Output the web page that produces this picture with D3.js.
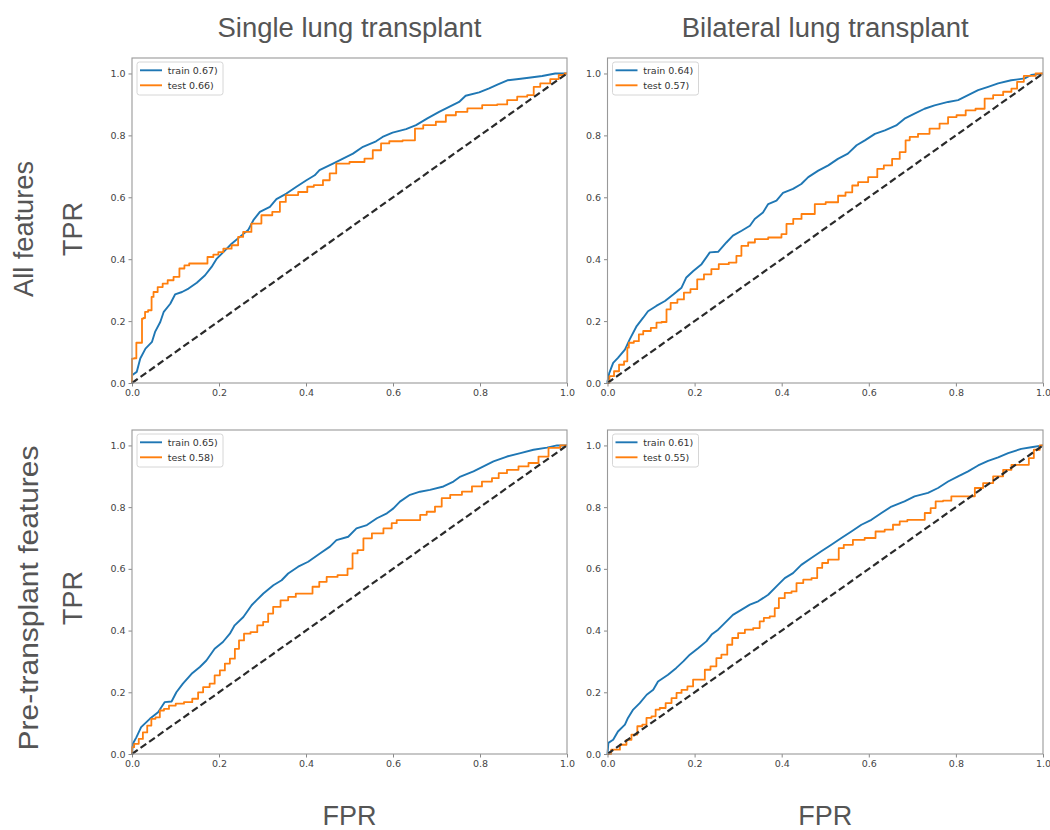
<!DOCTYPE html>
<html>
<head>
<meta charset="utf-8">
<script src="https://cdn.jsdelivr.net/npm/d3@7"></script>
<style>
  html, body { margin: 0; padding: 0; background: #fff; }
  svg { display: block; }
</style>
</head>
<body>
<svg id="chart" width="1050" height="830"></svg>
<script>
// ---------------- DATA ----------------
const columnTitles = ["Single lung transplant", "Bilateral lung transplant"];
const rowTitles = ["All features", "Pre-transplant features"];
const axisTicks = [0, 0.2, 0.4, 0.6, 0.8, 1.0];
const seriesNames = ["train", "test"];

// AUC labels per panel [train, test] (as printed in the legends)
const aucSingleAll = ["0.67)", "0.66)"];
const aucBilateralAll = ["0.64)", "0.57)"];
const aucSinglePre = ["0.65)", "0.58)"];
const aucBilateralPre = ["0.61)", "0.55)"];

// ROC curves: [FPR, TPR] pairs
const trainSingleAll = [[0,0],[0,0.025],[0.011,0.036],[0.019,0.079],[0.031,0.111],[0.046,0.133],[0.053,0.165],[0.065,0.197],[0.073,0.23],[0.088,0.256],[0.099,0.286],[0.115,0.294],[0.13,0.305],[0.149,0.324],[0.168,0.348],[0.183,0.375],[0.195,0.402],[0.21,0.423],[0.229,0.45],[0.252,0.477],[0.267,0.494],[0.279,0.526],[0.294,0.553],[0.317,0.569],[0.332,0.594],[0.355,0.612],[0.378,0.634],[0.401,0.655],[0.42,0.671],[0.431,0.688],[0.462,0.709],[0.485,0.725],[0.508,0.741],[0.531,0.763],[0.561,0.781],[0.576,0.795],[0.599,0.809],[0.63,0.82],[0.653,0.833],[0.679,0.855],[0.706,0.876],[0.729,0.892],[0.752,0.908],[0.767,0.928],[0.798,0.939],[0.821,0.952],[0.84,0.964],[0.863,0.978],[0.889,0.982],[0.912,0.986],[0.943,0.992],[0.973,1.0],[1,1]];
const testSingleAll = [[0,0],[0,0.079],[0.01,0.08],[0.01,0.13],[0.023,0.13],[0.023,0.208],[0.03,0.21],[0.03,0.23],[0.044,0.235],[0.046,0.278],[0.053,0.294],[0.065,0.31],[0.076,0.321],[0.088,0.332],[0.103,0.343],[0.115,0.37],[0.126,0.38],[0.137,0.386],[0.168,0.386],[0.179,0.407],[0.195,0.415],[0.202,0.423],[0.218,0.434],[0.24,0.445],[0.248,0.472],[0.263,0.488],[0.286,0.515],[0.309,0.542],[0.336,0.553],[0.344,0.585],[0.363,0.607],[0.401,0.617],[0.405,0.634],[0.431,0.639],[0.447,0.655],[0.462,0.677],[0.477,0.709],[0.523,0.714],[0.546,0.725],[0.561,0.752],[0.584,0.774],[0.599,0.781],[0.645,0.784],[0.656,0.822],[0.683,0.833],[0.714,0.844],[0.729,0.865],[0.76,0.876],[0.782,0.887],[0.828,0.898],[0.851,0.9],[0.874,0.914],[0.897,0.925],[0.92,0.93],[0.927,0.957],[0.95,0.968],[0.973,0.982],[0.989,0.995],[1,1]];

const trainBilateralAll = [[0,0],[0,0.005],[0.004,0.032],[0.013,0.065],[0.024,0.081],[0.04,0.108],[0.051,0.141],[0.067,0.184],[0.082,0.211],[0.093,0.232],[0.112,0.249],[0.132,0.265],[0.151,0.286],[0.17,0.308],[0.181,0.341],[0.197,0.362],[0.216,0.384],[0.235,0.422],[0.254,0.424],[0.273,0.454],[0.288,0.476],[0.308,0.492],[0.327,0.508],[0.338,0.53],[0.357,0.551],[0.369,0.578],[0.388,0.589],[0.403,0.614],[0.426,0.627],[0.445,0.643],[0.461,0.665],[0.484,0.686],[0.507,0.703],[0.529,0.724],[0.552,0.741],[0.572,0.768],[0.591,0.784],[0.614,0.805],[0.637,0.816],[0.663,0.832],[0.682,0.854],[0.705,0.87],[0.728,0.886],[0.751,0.897],[0.782,0.908],[0.805,0.914],[0.828,0.93],[0.851,0.946],[0.874,0.957],[0.897,0.968],[0.927,0.978],[0.958,0.984],[0.973,0.995],[1,1]];
const testBilateralAll = [[0,0],[0.009,0.022],[0.021,0.038],[0.032,0.059],[0.044,0.07],[0.047,0.114],[0.051,0.13],[0.07,0.135],[0.074,0.157],[0.09,0.168],[0.109,0.178],[0.116,0.195],[0.132,0.197],[0.139,0.238],[0.151,0.259],[0.17,0.27],[0.181,0.292],[0.2,0.303],[0.212,0.335],[0.231,0.351],[0.246,0.368],[0.265,0.384],[0.292,0.389],[0.3,0.411],[0.315,0.443],[0.331,0.454],[0.346,0.465],[0.392,0.47],[0.407,0.481],[0.415,0.514],[0.438,0.53],[0.453,0.546],[0.472,0.546],[0.48,0.578],[0.522,0.584],[0.537,0.605],[0.556,0.616],[0.568,0.638],[0.583,0.649],[0.614,0.665],[0.625,0.692],[0.644,0.703],[0.663,0.724],[0.679,0.746],[0.69,0.784],[0.698,0.795],[0.728,0.805],[0.751,0.822],[0.774,0.838],[0.79,0.859],[0.813,0.865],[0.832,0.881],[0.858,0.886],[0.874,0.919],[0.897,0.93],[0.92,0.941],[0.935,0.951],[0.946,0.973],[0.966,0.992],[1,1]];

const trainSinglePre = [[0,0],[0.002,0.033],[0.01,0.054],[0.021,0.087],[0.041,0.114],[0.06,0.135],[0.075,0.168],[0.091,0.17],[0.102,0.2],[0.117,0.228],[0.137,0.26],[0.156,0.282],[0.171,0.303],[0.19,0.341],[0.209,0.363],[0.225,0.39],[0.236,0.417],[0.256,0.444],[0.275,0.482],[0.286,0.498],[0.302,0.52],[0.325,0.547],[0.344,0.563],[0.359,0.585],[0.382,0.607],[0.405,0.623],[0.432,0.65],[0.455,0.672],[0.47,0.693],[0.497,0.704],[0.516,0.731],[0.54,0.742],[0.563,0.764],[0.586,0.78],[0.601,0.796],[0.616,0.818],[0.639,0.84],[0.662,0.85],[0.685,0.856],[0.716,0.867],[0.739,0.883],[0.755,0.899],[0.785,0.916],[0.808,0.932],[0.831,0.948],[0.862,0.964],[0.893,0.975],[0.923,0.986],[0.954,0.993],[0.977,1.0],[1,1]];
const testSinglePre = [[0,0],[0,0.022],[0.01,0.033],[0.021,0.049],[0.029,0.07],[0.041,0.092],[0.048,0.114],[0.06,0.119],[0.068,0.141],[0.079,0.146],[0.091,0.157],[0.11,0.163],[0.129,0.168],[0.148,0.179],[0.156,0.2],[0.171,0.217],[0.186,0.228],[0.194,0.255],[0.21,0.271],[0.217,0.293],[0.233,0.309],[0.24,0.341],[0.252,0.368],[0.263,0.39],[0.282,0.395],[0.294,0.417],[0.309,0.428],[0.317,0.455],[0.332,0.477],[0.351,0.498],[0.367,0.509],[0.386,0.52],[0.409,0.52],[0.421,0.542],[0.44,0.558],[0.455,0.574],[0.49,0.58],[0.501,0.601],[0.513,0.65],[0.524,0.661],[0.54,0.699],[0.563,0.715],[0.593,0.731],[0.601,0.748],[0.616,0.758],[0.655,0.758],[0.67,0.775],[0.685,0.785],[0.708,0.802],[0.716,0.829],[0.747,0.84],[0.77,0.85],[0.793,0.867],[0.816,0.883],[0.839,0.894],[0.847,0.91],[0.877,0.921],[0.9,0.932],[0.923,0.943],[0.946,0.964],[0.969,0.992],[1,1]];

const trainBilateralPre = [[0,0],[0.002,0.036],[0.013,0.046],[0.024,0.073],[0.04,0.095],[0.047,0.117],[0.059,0.144],[0.074,0.165],[0.09,0.192],[0.105,0.208],[0.116,0.235],[0.139,0.257],[0.158,0.279],[0.174,0.3],[0.189,0.322],[0.208,0.343],[0.227,0.365],[0.239,0.387],[0.254,0.403],[0.269,0.424],[0.288,0.451],[0.308,0.468],[0.327,0.484],[0.346,0.495],[0.369,0.516],[0.388,0.543],[0.407,0.57],[0.426,0.586],[0.445,0.613],[0.468,0.635],[0.491,0.657],[0.514,0.678],[0.537,0.7],[0.56,0.721],[0.583,0.743],[0.606,0.759],[0.629,0.781],[0.652,0.802],[0.682,0.819],[0.705,0.835],[0.736,0.846],[0.759,0.862],[0.782,0.883],[0.805,0.9],[0.828,0.916],[0.851,0.935],[0.874,0.95],[0.897,0.961],[0.92,0.975],[0.95,0.989],[0.973,0.994],[1,1]];
const testBilateralPre = [[0,0],[0.017,0.014],[0.04,0.03],[0.047,0.046],[0.063,0.063],[0.074,0.09],[0.086,0.095],[0.093,0.117],[0.109,0.122],[0.112,0.144],[0.128,0.149],[0.139,0.165],[0.155,0.181],[0.162,0.198],[0.178,0.208],[0.189,0.219],[0.204,0.241],[0.22,0.241],[0.227,0.273],[0.246,0.284],[0.254,0.311],[0.269,0.322],[0.281,0.354],[0.292,0.376],[0.308,0.392],[0.323,0.403],[0.346,0.408],[0.353,0.43],[0.365,0.441],[0.38,0.446],[0.388,0.473],[0.399,0.505],[0.415,0.522],[0.43,0.527],[0.438,0.554],[0.461,0.565],[0.476,0.57],[0.487,0.603],[0.499,0.619],[0.514,0.63],[0.529,0.63],[0.533,0.667],[0.552,0.678],[0.575,0.694],[0.606,0.7],[0.625,0.721],[0.648,0.727],[0.663,0.743],[0.679,0.754],[0.698,0.759],[0.721,0.759],[0.736,0.781],[0.748,0.797],[0.759,0.819],[0.782,0.821],[0.797,0.835],[0.836,0.835],[0.851,0.862],[0.874,0.878],[0.897,0.9],[0.92,0.921],[0.935,0.937],[0.962,0.937],[0.973,0.959],[0.985,0.986],[1,1]];

const chanceLine = [[0,0],[1,1]];

// ---------------- LAYOUT ----------------
const colX = [[132, 567], [607.5, 1043]];
const rowY = [[383, 58], [754, 430]];   // [y of 0, y of frame top]
const colors = { train: "#1f77b4", test: "#ff7f0e" };
const bigFont = "'Liberation Sans', Arial, sans-serif";
const smallFont = "'DejaVu Sans', sans-serif";
const textGray = "#555";

const panels = [
  { row: 0, col: 0, train: trainSingleAll, test: testSingleAll, auc: aucSingleAll },
  { row: 0, col: 1, train: trainBilateralAll, test: testBilateralAll, auc: aucBilateralAll },
  { row: 1, col: 0, train: trainSinglePre, test: testSinglePre, auc: aucSinglePre },
  { row: 1, col: 1, train: trainBilateralPre, test: testBilateralPre, auc: aucBilateralPre }
];

const svg = d3.select("#chart");
svg.append("rect").attr("width", 1050).attr("height", 830).attr("fill", "#fff");

panels.forEach(p => {
  const [x0, x1] = colX[p.col];
  const [yBottom, yTop] = rowY[p.row];
  const x = d3.scaleLinear().domain([0, 1]).range([x0, x1]);
  const y = d3.scaleLinear().domain([0, 1.05]).range([yBottom, yTop]);
  const g = svg.append("g");

  // axes
  const xAxis = d3.axisBottom(x).tickValues(axisTicks).tickFormat(d3.format(".1f")).tickSize(3.5).tickPadding(3).tickSizeOuter(0);
  const yAxis = d3.axisLeft(y).tickValues(axisTicks).tickFormat(d3.format(".1f")).tickSize(3.5).tickPadding(3).tickSizeOuter(0);
  const gx = g.append("g").attr("transform", `translate(0,${yBottom})`).call(xAxis);
  const gy = g.append("g").attr("transform", `translate(${x0},0)`).call(yAxis);
  [gx, gy].forEach(a => {
    a.select(".domain").remove();
    a.selectAll(".tick line").attr("stroke", "#888").attr("stroke-width", 1);
    a.selectAll(".tick text").attr("fill", "#444").style("font-family", smallFont).style("font-size", "9.5px");
  });

  // lines
  const lineLin = d3.line().x(d => x(d[0])).y(d => y(d[1]));
  const lineStep = d3.line().x(d => x(d[0])).y(d => y(d[1])).curve(d3.curveStep);
  g.append("path").datum(p.train).attr("d", lineLin).attr("fill", "none")
    .attr("stroke", colors.train).attr("stroke-width", 1.9).attr("stroke-linejoin", "round");
  g.append("path").datum(p.test).attr("d", lineStep).attr("fill", "none")
    .attr("stroke", colors.test).attr("stroke-width", 1.8).attr("stroke-linejoin", "round");
  g.append("path").datum(chanceLine).attr("d", lineLin).attr("fill", "none")
    .attr("stroke", "#2a2a2a").attr("stroke-width", 2.2).attr("stroke-dasharray", "7,3.5");

  // frame
  g.append("rect").attr("x", x0).attr("y", yTop).attr("width", x1 - x0).attr("height", yBottom - yTop)
    .attr("fill", "none").attr("stroke", "#999").attr("stroke-width", 1.1);

  // legend
  const lg = g.append("g").attr("transform", `translate(${x0 + 5},${yTop + 4})`);
  lg.append("rect").attr("x", 0).attr("y", 0).attr("width", 86).attr("height", 33).attr("rx", 2.5)
    .attr("fill", "#fff").attr("fill-opacity", 0.8).attr("stroke", "#d6d6d6").attr("stroke-width", 1);
  seriesNames.forEach((s, i) => {
    const yy = 8.3 + i * 15;
    lg.append("line").attr("x1", 3).attr("x2", 25).attr("y1", yy).attr("y2", yy)
      .attr("stroke", colors[s]).attr("stroke-width", 1.9);
    lg.append("text").attr("x", 30.7).attr("y", yy).attr("dy", "0.35em")
      .style("font-family", smallFont).style("font-size", "9.5px").attr("fill", "#333")
      .text(`${s} ${p.auc[i]}`);
  });
});

// column titles
const titleLen = [264, 287];
columnTitles.forEach((t, i) => {
  svg.append("text").attr("x", (colX[i][0] + colX[i][1]) / 2).attr("y", 37)
    .attr("text-anchor", "middle").style("font-family", bigFont).style("font-size", "27px")
    .attr("fill", textGray).attr("textLength", titleLen[i]).attr("lengthAdjust", "spacingAndGlyphs").text(t);
  svg.append("text").attr("x", (colX[i][0] + colX[i][1]) / 2).attr("y", 825)
    .attr("text-anchor", "middle").style("font-family", bigFont).style("font-size", "27px")
    .attr("fill", textGray).text("FPR");
});

// row titles
const rowCenters = [229, 598];
const rowLabelX = [33, 38];
const rowLen = [136, 305];
rowTitles.forEach((t, i) => {
  svg.append("text").attr("transform", `translate(${rowLabelX[i]},${rowCenters[i]}) rotate(-90)`)
    .attr("text-anchor", "middle").style("font-family", bigFont).style("font-size", "27px")
    .attr("fill", textGray).attr("textLength", rowLen[i]).attr("lengthAdjust", "spacingAndGlyphs").text(t);
  svg.append("text").attr("transform", `translate(82,${rowCenters[i]}) rotate(-90)`)
    .attr("text-anchor", "middle").style("font-family", bigFont).style("font-size", "27px")
    .attr("fill", textGray).text("TPR");
});
</script>
</body>
</html>
